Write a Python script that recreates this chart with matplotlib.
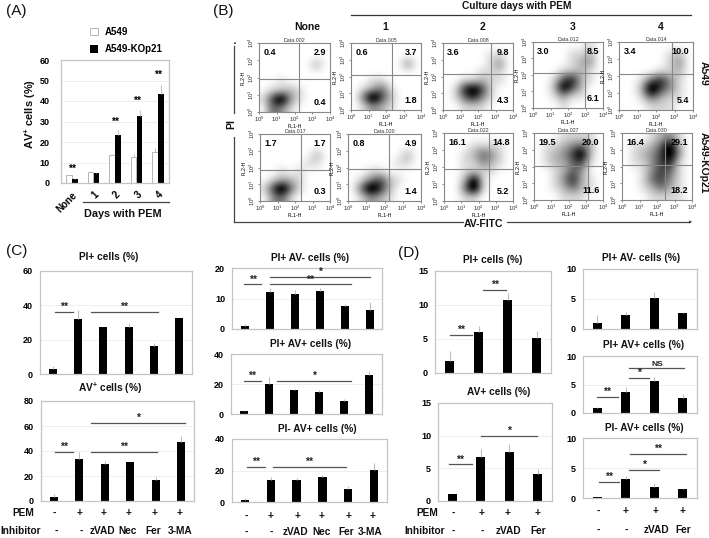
import matplotlib
matplotlib.use("Agg")
import matplotlib.pyplot as plt
import numpy as np
from matplotlib.lines import Line2D

plt.rcParams['font.family'] = ['Liberation Sans', 'DejaVu Sans']
plt.rcParams['mathtext.fontset'] = 'custom'
plt.rcParams['mathtext.rm'] = 'Liberation Sans'
plt.rcParams['mathtext.bf'] = 'Liberation Sans:bold'

W = 709
H = 538

# panel A
daysLabels = ["None", "1", "2", "3", "4"]
a549Values = [3.7, 5.5, 13.7, 12.8, 15.0]
a549Err = [0.2, 0.2, 0.3, 1.5, 2.0]
koValues = [2.0, 5.0, 23.3, 32.7, 43.3]
koErr = [0.2, 0.2, 2.5, 3.0, 4.7]
aStars = [7, None, 30, 40, 53]

# panel B, quadrant numbers: upper left, upper right, lower right
flowTitles = ["Data.002", "Data.005", "Data.008", "Data.012", "Data.014",
              "Data.017", "Data.020", "Data.022", "Data.027", "Data.030"]
flowUL = ["0.4", "0.6", "3.6", "3.0", "3.4", "1.7", "0.8", "16.1", "19.5", "16.4"]
flowUR = ["2.9", "3.7", "9.8", "8.5", "10.0", "1.7", "4.9", "14.8", "20.0", "29.1"]
flowLR = ["0.4", "1.8", "4.3", "6.1", "5.4", "0.3", "1.4", "5.2", "11.6", "18.2"]
# dot density on a coarse grid, 0 = empty, 9 = darkest
flowDensity = [
    ["00000000", "00000000", "00000020", "00000000", "00100000", "01121000", "15931000", "04310000"],
    ["00000000", "00000000", "00000030", "00000000", "00110000", "01241000", "04952000", "01321000"],
    ["00000000", "00000110", "00000130", "00001110", "00112110", "01685100", "01463100", "00111000"],
    ["00000010", "00001120", "00001230", "00011210", "00146210", "00285200", "00131100", "00010000"],
    ["00000000", "00000120", "00000130", "00001120", "00146310", "00295310", "00142110", "00011100"],
    ["00000000", "00000000", "00000020", "00000110", "00101000", "01221000", "15941000", "03410000"],
    ["00000000", "00000000", "00000020", "00000110", "00110000", "01352100", "04962000", "01321000"],
    ["00000000", "00011110", "00124310", "00113210", "00111100", "00281000", "00491000", "00110000"],
    ["00011110", "01123420", "01235820", "01224510", "00124300", "00136210", "00124210", "00011100"],
    ["00012310", "01124820", "01235830", "01135610", "00135410", "00145310", "00124210", "00011110"],
]
# left, right, top, bottom, vertical gate, horizontal gate (pixels)
flowBoxes = [
    (259, 330, 43, 112, 299, 79), (351, 421, 43, 110, 392, 75), (443, 513, 43, 110, 491, 74),
    (533, 603, 42, 108, 585, 73), (619, 693, 42, 110, 672, 74),
    (260, 330, 134, 201, 301, 170), (348, 421, 134, 201, 389, 169), (444, 513, 133, 201, 489, 169),
    (534, 603, 133, 200, 588, 166), (622, 692, 133, 200, 665, 165),
]

# panel C
c1Values = [3.0, 32.0, 27.5, 27.5, 16.3, 32.5]
c1Err = [1.8, 5.0, 0.1, 2.0, 1.5, 0.3]
c2Values = [3.5, 34.0, 30.0, 31.0, 16.5, 47.0]
c2Err = [2.0, 5.0, 2.0, 0.5, 2.5, 5.0]
c3Values = [1.0, 12.2, 11.5, 12.5, 7.5, 6.2]
c3Err = [0.5, 1.2, 1.2, 0.9, 0.7, 2.6]
c4Values = [2.0, 20.0, 16.0, 14.7, 8.5, 26.3]
c4Err = [0.6, 4.5, 1.0, 1.3, 1.8, 2.5]
c5Values = [1.5, 14.2, 13.8, 16.0, 8.0, 20.3]
c5Err = [1.2, 1.5, 1.2, 1.0, 2.0, 4.7]

# panel D
d1Values = [1.8, 6.0, 10.7, 5.2]
d1Err = [1.4, 0.9, 1.0, 1.0]
d2Values = [1.0, 6.8, 7.5, 4.1]
d2Err = [0.0, 1.2, 1.2, 0.8]
d3Values = [1.0, 2.4, 5.1, 2.6]
d3Err = [1.3, 0.4, 1.1, 0.3]
d4Values = [0.8, 3.6, 5.7, 2.6]
d4Err = [0.2, 1.0, 0.6, 0.8]
d5Values = [0.1, 3.2, 1.8, 1.5]
d5Err = [0.05, 0.4, 0.7, 0.2]

pemC = ["-", "+", "+", "+", "+", "+"]
inhibitorC = ["-", "-", "zVAD", "Nec", "Fer", "3-MA"]
pemD = ["-", "+", "+", "+"]
inhibitorD = ["-", "-", "zVAD", "Fer"]

fig = plt.figure(figsize=(W / 100, H / 100), dpi=100)


def makeAxes(left, right, top, bottom):
    return fig.add_axes([left / W, 1 - bottom / H, (right - left) / W, (bottom - top) / H])


def putText(x, y, s, size=7, weight='bold', **kw):
    kw.setdefault('ha', 'center')
    kw.setdefault('va', 'center')
    fig.text(x / W, 1 - y / H, s, fontsize=size, fontweight=weight, color='#111111', **kw)


def putLine(x0, y0, x1, y1, color='#555555', lw=1.0):
    fig.add_artist(Line2D([x0 / W, x1 / W], [1 - y0 / H, 1 - y1 / H], color=color, lw=lw))


def styleBars(ax, ticks):
    ax.set_yticks(ticks)
    ax.set_xticks([])
    ax.tick_params(axis='y', length=0, labelsize=6.5, pad=5)
    for label in ax.get_yticklabels():
        label.set_fontweight('bold')
    ax.grid(axis='y', color='#efefef', lw=0.7)
    ax.set_axisbelow(True)
    for spine in ax.spines.values():
        spine.set_color('#c4c4c4')
        spine.set_linewidth(0.9)


def barPanel(box, title, titleX, titleY, values, err, ymax, ticks, sig):
    ax = makeAxes(*box)
    x = np.arange(len(values))
    ax.bar(x, values, width=0.32, color='black')
    ax.errorbar(x, values, yerr=[np.zeros(len(err)), err], fmt='none', ecolor='#bdbdbd',
                elinewidth=0.8, capsize=0)
    ax.set_xlim(-0.5, len(values) - 0.5)
    ax.set_ylim(0, ymax)
    styleBars(ax, ticks)
    for x0, x1, level, label in sig:
        ax.plot([x0, x1], [level, level], color='#555555', lw=0.9)
        ax.text((x0 + x1) / 2, level, label, ha='center', va='bottom',
                fontsize=6 if label == "NS" else 7.5, fontweight='bold', color='#222222')
    putText(titleX, titleY, title, size=7.3)
    return ax


# panel A
axA = makeAxes(61, 169, 60, 183)
posA = np.arange(len(daysLabels))
axA.bar(posA - 0.14, a549Values, width=0.26, color='white', edgecolor='#b5b5b5', lw=0.7, label='A549')
axA.bar(posA + 0.14, koValues, width=0.26, color='black', label='A549-KOp21')
axA.errorbar(posA - 0.14, a549Values, yerr=[np.zeros(5), a549Err], fmt='none', ecolor='#c4c4c4', elinewidth=0.8)
axA.errorbar(posA + 0.14, koValues, yerr=[np.zeros(5), koErr], fmt='none', ecolor='#c4c4c4', elinewidth=0.8)
axA.set_xlim(-0.5, 4.5)
axA.set_ylim(0, 60)
styleBars(axA, [0, 10, 20, 30, 40, 50, 60])
axA.tick_params(axis='y', pad=8)
for i, level in enumerate(aStars):
    if level is not None:
        axA.text(i, level, "**", ha='center', va='center', fontsize=7.5, fontweight='bold')
axA.set_xticks(posA)
axA.set_xticklabels(daysLabels, rotation=45, ha='right', rotation_mode='anchor',
                    fontsize=7, fontweight='bold')
axA.tick_params(axis='x', length=0, pad=5)
axA.legend(loc='lower left', bbox_to_anchor=(0.25, 1.03), frameon=False,
           prop={'weight': 'bold', 'size': 7}, handlelength=0.8, handleheight=0.8,
           handletextpad=0.7, labelspacing=0.75, borderaxespad=0.1, borderpad=0.1)
putLine(83, 202, 169, 202, color='#444444', lw=0.9)
putText(123, 214, "Days with PEM", size=7.8)
putText(30, 114, r"AV$^{\mathbf{+}}$ cells (%)", size=8, rotation=90)

# panel B
for i, (left, right, top, bottom, gateX, gateY) in enumerate(flowBoxes):
    ax = makeAxes(left, right, top, bottom)
    grid = np.array([[int(c) for c in row] for row in flowDensity[i]])
    ax.imshow(grid, cmap='gray_r', vmin=0, vmax=6.5, extent=(0, 4, 0, 4), aspect='auto',
              interpolation='bicubic')
    ax.set_xlim(0, 4)
    ax.set_ylim(0, 4)
    ax.axvline((gateX - left) / (right - left) * 4, color='#888888', lw=0.8)
    ax.axhline((bottom - gateY) / (bottom - top) * 4, color='#888888', lw=0.8)
    ax.set_xticks(range(5))
    ax.set_yticks(range(5))
    ax.set_xticklabels(["$10^{%d}$" % t for t in range(5)], fontsize=4.3)
    ax.set_yticklabels(["$10^{%d}$" % t for t in range(5)], fontsize=4.3, rotation=90, va='center')
    ax.tick_params(length=1.5, width=0.4, pad=0.6, colors='#333333')
    ax.set_xlabel("FL1-H", fontsize=3.8, labelpad=-0.5)
    ax.set_ylabel("FL2-H", fontsize=3.8, labelpad=0.5)
    ax.set_title(flowTitles[i], fontsize=3.8, pad=1, color='#333333')
    for spine in ax.spines.values():
        spine.set_color('#888888')
        spine.set_linewidth(0.8)
    ax.text(0.06, 0.93, flowUL[i], transform=ax.transAxes, ha='left', va='top', fontsize=6.5, fontweight='bold')
    ax.text(0.95, 0.93, flowUR[i], transform=ax.transAxes, ha='right', va='top', fontsize=6.5, fontweight='bold')
    ax.text(0.95, 0.07, flowLR[i], transform=ax.transAxes, ha='right', va='bottom', fontsize=6.5, fontweight='bold')

putText(517, 6, "Culture days with PEM", size=7.3)
putLine(351, 15, 691, 15, color='#333333', lw=0.9)
for x, s in zip([307, 385, 482, 573, 661], ["None", "1", "2", "3", "4"]):
    putText(x, 27, s, size=7.5)
putText(704, 73, "A549", size=7.5, rotation=-90)
putText(704, 163, "A549-KOp21", size=7.5, rotation=-90)
putText(231, 124, "PI", size=7.5, rotation=90)
putLine(234, 137, 234, 222, color='#444444', lw=0.9)
putLine(234, 222, 463, 222, color='#444444', lw=0.9)
putLine(507, 222, 689, 222, color='#444444', lw=0.9)
putLine(234, 113, 234, 46, color='#444444', lw=0.9)
putText(483, 224, "AV-FITC", size=7.5)
fig.text(234 / W, 1 - 43 / H, "▲", fontsize=3, ha='center', va='center', color='#333333')
fig.text(691 / W, 1 - 222 / H, "▶", fontsize=3, ha='center', va='center', color='#333333')

# panel C
barPanel((40, 192, 271, 374), "PI+ cells (%)", 109, 257, c1Values, c1Err, 60, [0, 20, 40, 60],
         [(0.1, 0.8, 36, "**"), (1.5, 4.15, 36, "**")])
barPanel((41, 194, 401, 501), r"AV$^{\mathbf{+}}$ cells (%)", 110, 388, c2Values, c2Err, 80, [0, 20, 40, 60, 80],
         [(0.06, 0.75, 39, "**"), (1.45, 4.05, 39, "**"), (1.45, 5.14, 62.4, "*")])
barPanel((232, 382, 268, 329), "PI+ AV- cells (%)", 310, 258, c3Values, c3Err, 20, [0, 10, 20],
         [(-0.02, 0.67, 14.6, "**"), (1.0, 4.27, 14.6, "**"), (1.0, 5.03, 17.2, "*")])
barPanel((231, 382, 354, 414), "PI+ AV+ cells (%)", 311, 344, c4Values, c4Err, 40, [0, 20, 40],
         [(0.0, 0.7, 22.2, "**"), (1.33, 4.28, 22.2, "*")])
barPanel((232, 387, 439, 502), "PI- AV+ cells (%)", 317, 429, c5Values, c5Err, 40, [0, 20, 40],
         [(0.08, 0.77, 22.5, "**"), (1.07, 3.93, 22.5, "**")])

# panel D
barPanel((435, 551, 271, 373), "PI+ cells (%)", 493, 260, d1Values, d1Err, 15, [0, 5, 10, 15],
         [(0.0, 0.77, 5.56, "**"), (1.17, 1.94, 12.2, "**")])
barPanel((438, 552, 403, 501), "AV+ cells (%)", 499, 392, d2Values, d2Err, 15, [0, 5, 10, 15],
         [(-0.11, 0.68, 5.6, "**"), (1.0, 2.97, 10.0, "*")])
barPanel((583, 697, 269, 329), "PI+ AV- cells (%)", 641, 258, d3Values, d3Err, 10, [0, 5, 10], [])
barPanel((583, 697, 356, 413), "PI+ AV+ cells (%)", 644, 345, d4Values, d4Err, 10, [0, 5, 10],
         [(0.0, 0.72, 2.8, "**"), (1.13, 1.83, 6.2, "*"), (1.13, 3.06, 7.9, "NS")])
barPanel((583, 697, 438, 498), "PI- AV+ cells (%)", 644, 428, d5Values, d5Err, 10, [0, 5, 10],
         [(0.05, 0.76, 2.67, "**"), (1.11, 2.15, 4.7, "*"), (1.15, 3.12, 7.3, "**")])

# treatment rows under the columns
for x, a, b in zip([54, 80, 104, 129, 155, 180], pemC, inhibitorC):
    putText(x, 513, a, size=7.3)
for x, b in zip([56, 81, 102, 128, 153, 180], inhibitorC):
    putText(x, 531, b, size=7.3)
for x, a in zip([246, 271, 298, 322, 349, 373], pemC):
    putText(x, 516, a, size=7.3)
for x, b in zip([246, 271, 295, 322, 346, 370], inhibitorC):
    putText(x, 532, b, size=7.3)
for x, a, b in zip([453, 482, 508, 538], pemD, inhibitorD):
    putText(x, 513, a, size=7.3)
    putText(x, 531, b, size=7.3)
for x, a, b in zip([598, 626, 656, 683], pemD, inhibitorD):
    putText(x, 511, a, size=7.3)
    putText(x, 530, b, size=7.3)
putText(34, 513, "PEM", size=7.3, ha='right')
putText(41, 531, "Inhibitor", size=7.3, ha='right')
putText(438, 513, "PEM", size=7.3, ha='right')
putText(445, 531, "Inhibitor", size=7.3, ha='right')

# panel letters
putText(16, 11, "(A)", size=11, weight='normal')
putText(223, 11, "(B)", size=11, weight='normal')
putText(17, 251, "(C)", size=11, weight='normal')
putText(409, 253, "(D)", size=11, weight='normal')

fig.savefig("out.png", dpi=100)
